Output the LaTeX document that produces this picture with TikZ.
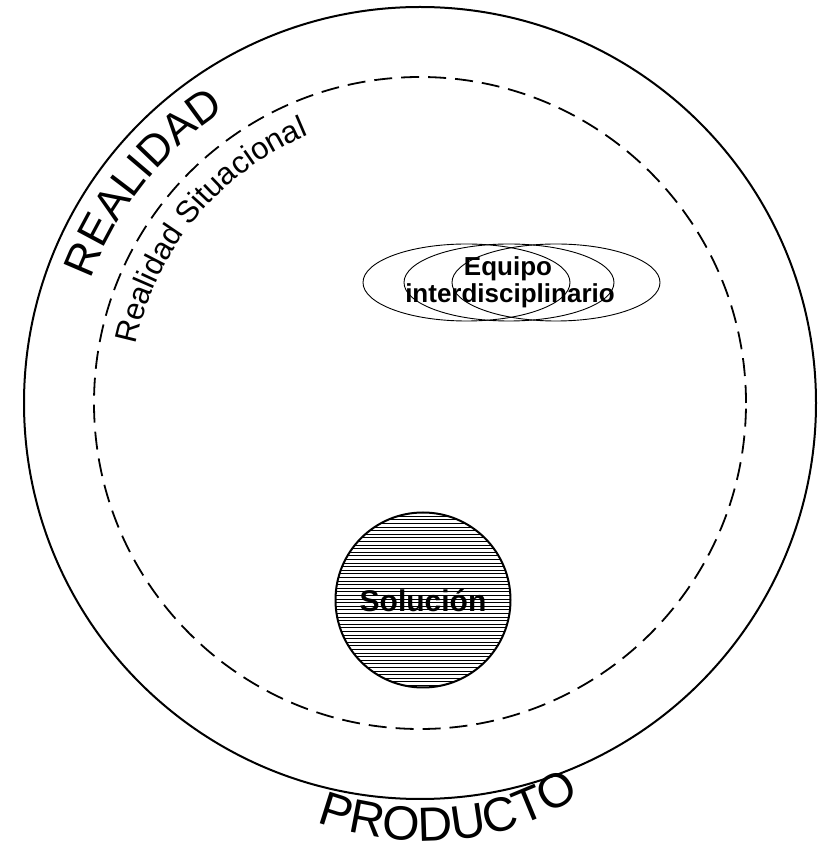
\documentclass[tikz,border=0pt]{standalone}
\usepackage{fontspec}
\setmainfont{Liberation Sans}
\usetikzlibrary{decorations.text,calc}
\newcommand\realidadfont{\fontsize{44}{44}\selectfont}
\newcommand\situacionfont{\fontsize{31}{31}\selectfont}
\newcommand\productofont{\fontsize{48}{48}\selectfont}
\begin{document}
\begin{tikzpicture}[x=1pt,y=1pt,
  ring/.style={line width=2pt},
  dashring/.style={line width=1.8pt, dash pattern=on 18pt off 9pt},
  lens/.style={line width=0.9pt},
  hatch/.style={line width=0.9pt},
  teamlabel/.style={font=\bfseries\fontsize{26}{26}\selectfont, inner sep=0pt, anchor=base},
  arctext/.style={decorate, decoration={text along path, text align=center}},
]
\useasboundingbox (0,0) rectangle (820,852);

% reality and situational reality
\coordinate (c) at (420,449);
\draw[ring] (c) circle[radius=396];
\draw[dashring] (c) circle[radius=326];

% curved titles
\path[arctext, decoration={text={|\realidadfont|REALIDAD}}]
  ($(c)+(161:352)$) arc[start angle=161, end angle=122, radius=352];
\path[arctext, decoration={text={|\situacionfont|Realidad Situacional}}]
  ($(c)+(171:290)$) arc[start angle=171, end angle=110, radius=290];
\coordinate (pstart) at (306,35);
\coordinate (pend) at (590,64);
\path[arctext, decoration={text={|\productofont|PRODUCTO}}]
  (pstart) .. controls (365,7) and (495,-10) .. (pend);

% interdisciplinary team
\draw[lens] (466.5,569.5) ellipse[x radius=103.5, y radius=38.5];
\draw[lens] (509,569.5) ellipse[x radius=105, y radius=38.5];
\draw[lens] (556,569.5) ellipse[x radius=104, y radius=38.5];
\node[teamlabel] (equipo) at (508,576) {Equipo};
\node[teamlabel] (inter) at (510,549) {interdisciplinario};

% solution
\coordinate (s) at (423,252);
\begin{scope}
  \clip (s) circle[radius=87.5];
  \foreach \yy in {0,3.6,...,180} \draw[hatch] (330,163+\yy) -- (520,163+\yy);
\end{scope}
\draw[ring] (s) circle[radius=87.5];
\node[font=\bfseries\fontsize{30}{30}\selectfont, inner sep=0pt, anchor=base] (sol) at (423,240) {Solución};
\end{tikzpicture}
\end{document}
